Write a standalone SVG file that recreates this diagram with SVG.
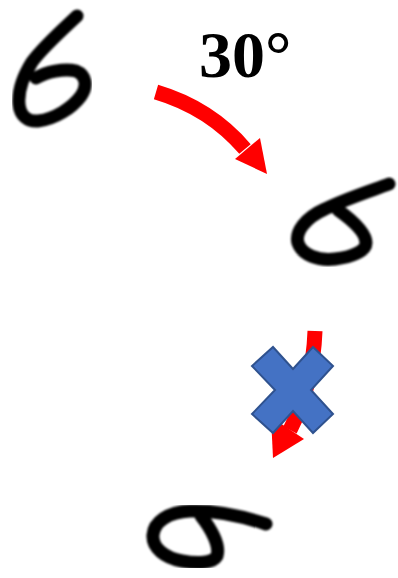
<svg xmlns="http://www.w3.org/2000/svg" width="398" height="578" viewBox="0 0 398 578">
<defs>
<filter id="soft" x="-10%" y="-10%" width="120%" height="120%"><feGaussianBlur stdDeviation="1.2"/></filter>
<style>
.digit{fill:none;stroke:#000;stroke-width:13;stroke-linecap:round;stroke-linejoin:round;filter:url(#soft)}
.shaft{fill:none;stroke:#ff0000;stroke-width:15}
.head{fill:#ff0000}
.label{font-family:"Liberation Serif","Times New Roman",serif;font-weight:bold;font-size:66px;fill:#000}
.cross{fill:#4472c4;stroke:#2f528f;stroke-width:2;stroke-linejoin:miter}
</style>
</defs>
<g id="digit-original">
<path class="digit" d="M77 16 C62 30 42 48 32 62 C22 78 18 92 19 104 C20 116 28 122 38 121 C55 119 72 108 81 96 C88 86 86 75 76 71 C64 68 46 72 36 78"/>
</g>
<g id="digit-rotated">
<path class="digit" d="M389 184 C370 191 345 199 325 209 C305 218 295 232 298 243 C302 255 318 261 335 259 C352 257 366 251 366 243 C366 232 352 220 338 210"/>
</g>
<g id="digit-wrong">
<path class="digit" d="M266 524 C245 517 215 510 190 511 C168 512 154 522 153 535 C152 548 165 558 182 561 C198 564 213 563 217 556 C220 546 212 530 201 516"/>
</g>
<g id="label-30">
<text class="label" x="199" y="77">30°</text>
</g>
<g id="connectors">
<g id="arrow-rotate">
<path class="shaft" d="M156 92 Q210 108 245 149"/>
<polygon class="head" points="267,174 235,159 260,138"/>
</g>
<g id="arrow-invalid">
<path class="shaft" d="M315 331 Q313 385 290 430"/>
<polygon class="head" points="273,458 271,417 304,439"/>
</g>
</g>
<g id="cross">
<polygon class="cross" points="273,347 293,369 313,347 333,366 311,390 333,414 313,433 293,411 273,433 252,414 275,390 252,366"/>
</g>
</svg>
